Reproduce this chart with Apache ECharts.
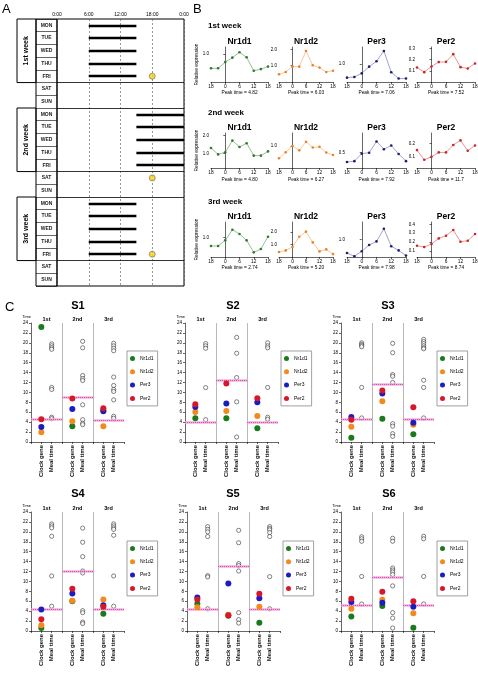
<!DOCTYPE html>
<html><head><meta charset="utf-8">
<script src="https://cdn.jsdelivr.net/npm/echarts@6/dist/echarts.min.js"></script>
<style>html,body{margin:0;padding:0;background:#fff}#c{width:478px;height:674px}</style>
</head><body><div id="c"></div>
<script>
const FONT = 'Liberation Sans, Arial, Helvetica, sans-serif';

// ---------- Panel A data ----------
const weekLabels = ['1st week', '2nd week', '3rd week'];
const dayLabels = ['MON', 'TUE', 'WED', 'THU', 'FRI', 'SAT', 'SUN'];
const mealStartHour = [6, 15, 6];
const mealEndHour = [15, 24, 15];
const mealDayCount = [5, 5, 5];
const sampleDayIndex = [4, 5, 4];
const sampleHour = [18, 18, 18];

// ---------- Panel B data ----------
const timePoints = [-6, -3, 0, 3, 6, 9, 12, 15, 18];
const geneNames = ['Nr1d1', 'Nr1d2', 'Per3', 'Per2'];
const week1Nr1d1 = [0.49, 0.49, 0.71, 0.87, 1.06, 0.88, 0.40, 0.46, 0.55];
const week1Nr1d2 = [0.47, 0.61, 0.94, 0.94, 1.90, 1.02, 0.88, 0.61, 0.69];
const week1Per3  = [0.24, 0.28, 0.48, 0.85, 1.15, 1.72, 0.54, 0.19, 0.19];
const week1Per2  = [0.130, 0.088, 0.139, 0.178, 0.180, 0.249, 0.133, 0.121, 0.166];
const week2Nr1d1 = [1.30, 0.94, 1.06, 1.72, 1.36, 1.57, 0.87, 0.87, 1.11];
const week2Nr1d2 = [0.61, 0.80, 1.00, 0.86, 1.13, 0.95, 0.97, 0.79, 0.71];
const week2Per3  = [0.19, 0.22, 0.46, 0.49, 0.85, 0.60, 0.72, 0.45, 0.22];
const week2Per2  = [0.151, 0.080, 0.102, 0.134, 0.134, 0.188, 0.222, 0.146, 0.185];
const week3Nr1d1 = [0.57, 0.57, 0.86, 1.41, 1.19, 0.86, 0.24, 0.41, 1.05];
const week3Nr1d2 = [0.42, 0.55, 0.82, 1.63, 2.03, 1.18, 0.47, 0.63, 0.26];
const week3Per3  = [0.23, 0.04, 0.33, 0.69, 0.90, 1.63, 0.62, 0.38, 0.08];
const week3Per2  = [0.160, 0.145, 0.179, 0.242, 0.272, 0.336, 0.205, 0.216, 0.291];
const peakWeek1 = ['4.82', '6.03', '7.06', '7.52'];
const peakWeek2 = ['4.80', '6.27', '7.92', '11.7'];
const peakWeek3 = ['2.74', '5.20', '7.98', '8.74'];
const ticksWeek1 = [[1.0], [1.0, 2.0], [1.0], [0.1, 0.2, 0.3]];
const ticksWeek2 = [[1.0, 2.0], [1.0], [0.5], [0.1, 0.2]];
const ticksWeek3 = [[1.0], [1.0, 2.0], [1.0], [0.1, 0.2, 0.3, 0.4]];

// ---------- Panel C data (order: Nr1d1, Nr1d2, Per3, Per2 per week) ----------
const subjects = ['S1', 'S2', 'S3', 'S4', 'S5', 'S6'];
const columnLabels = ['1st', '2nd', '3rd'];
const s1Clock = [[23.2, 1.95, 3.03, 4.58], [3.16, 4.17, 6.66, 8.75], [6.4, 3.16, 6.2, 6.8]];
const s1Meal = [[19.8, 19.4, 19.0, 18.7, 11.0, 10.6, 5.0, 4.7], [20.3, 19.0, 13.4, 12.8, 12.4, 7.5, 4.5, 3.8, 3.5], [19.9, 19.4, 18.9, 18.4, 13.1, 11.4, 10.6, 10.2, 8.5, 5.2, 4.8]];
const s1Mean = [4.5, 8.95, 4.4];
const s2Clock = [[4.78, 6.06, 7.07, 7.6], [4.78, 6.26, 7.74, 11.8], [2.76, 5.25, 8.0, 8.8]];
const s2Meal = [[19.85, 19.4, 18.9, 10.97, 4.5], [21.1, 17.9, 13.0, 8.1, 1.0], [20.0, 19.4, 19.0, 11.0, 5.0, 4.6]];
const s2Mean = [4.0, 12.45, 4.04];
const s3Clock = [[0.87, 3.1, 5.05, 4.5], [4.7, 8.2, 9.76, 10.4], [1.55, 3.5, 3.9, 7.0]];
const s3Meal = [[20.0, 19.7, 19.45, 19.2, 11.0, 4.85], [19.9, 18.0, 13.6, 13.25, 12.0, 3.7, 3.2, 1.68, 1.14], [20.7, 20.25, 19.85, 19.4, 19.0, 18.8, 12.45, 11.0, 4.85]];
const s3Mean = [4.5, 11.6, 4.5];
const s4Clock = [[0.6, 1.15, 4.33, 2.37], [6.0, 6.09, 7.57, 8.5], [3.5, 6.36, 5.2, 4.87]];
const s4Meal = [[21.6, 21.2, 20.8, 19.1, 11.1, 5.0], [20.75, 17.9, 15.0, 12.1, 11.7, 4.1, 3.7, 1.8, 1.5], [21.6, 21.2, 20.8, 20.5, 19.3, 11.1, 5.0]];
const s4Mean = [4.46, 12.0, 4.46];
const s5Clock = [[5.48, 4.8, 6.75, 6.35], [3.1, 3.3, 9.56, 3.2], [1.67, 4.9, 6.6, 7.5]];
const s5Meal = [[21.05, 20.5, 20.0, 19.05, 11.16, 10.9, 4.48], [20.3, 17.8, 13.6, 13.2, 12.1, 3.7, 2.3, 1.6], [21.05, 20.7, 20.4, 19.85, 19.05, 10.96, 4.48]];
const s5Mean = [4.4, 13.03, 4.4];
const s6Clock = [[2.9, 4.5, 5.85, 6.5], [5.04, 6.3, 5.7, 7.93], [0.67, 3.6, 4.9, 6.0]];
const s6Meal = [[19.0, 18.6, 18.1, 11.0, 5.45], [18.7, 18.1, 12.7, 12.3, 11.9, 11.4, 9.1, 3.7, 2.6, 0.6], [19.1, 18.6, 11.0, 5.45]];
const s6Mean = [5.1, 10.76, 5.1];

// ---------- layout / styles ----------
const bLineColors = ['#6aa56a', '#f2b07a', '#7a7ab8', '#dc6a6a'];
const bPointColors = ['#2e7a2e', '#e8842a', '#1e1e70', '#c42a2a'];
const cColors = ['#1b7a1b', '#f28a1e', '#1c1cc0', '#d8182a'];
const bColLeft = [211, 279, 347, 417];
const bColWidth = [57, 54, 59, 58];
const bRowTop = [47, 133, 222];
const bRowHeight = 35;
const bPeakGap = [6.5, 9, 6];
const bYRange = [
  [[0, 1.25], [0, 2.14], [0, 1.94], [0, 0.313]],
  [[0.17, 2.15], [0.3, 1.41], [0, 1.12], [0.02, 0.276]],
  [[0, 1.81], [0.03, 2.79], [0, 2.02], [0.033, 0.426]]
];
const cLayout = [
  {left: 31, top: 323, lx: 127, ly: 351, tx: 78, ty: 306},
  {left: 185, top: 323, lx: 281, ly: 351, tx: 233, ty: 306},
  {left: 341, top: 323, lx: 437, ly: 351, tx: 388, ty: 306},
  {left: 31, top: 512, lx: 127, ly: 541, tx: 78, ty: 494},
  {left: 187, top: 512, lx: 283, ly: 541, tx: 233, ty: 494},
  {left: 341, top: 512, lx: 437, ly: 541, tx: 389, ty: 494}
];

const option = {animation: false, textStyle: {fontFamily: FONT}, grid: [], xAxis: [], yAxis: [], series: [], legend: [], graphic: []};
function addGrid(g) { option.grid.push(Object.assign({outerBoundsMode: 'none', containLabel: false}, g)); return option.grid.length - 1; }
function addX(a) { option.xAxis.push(a); return option.xAxis.length - 1; }
function addY(a) { option.yAxis.push(a); return option.yAxis.length - 1; }
function txt(text, x, y, size, weight, align, extra) {
  option.graphic.push(Object.assign({type: 'text', x: x, y: y, silent: true,
    style: {text: text, fontSize: size, fontWeight: weight || 'normal', fontFamily: FONT, fill: '#000', align: align || 'left', verticalAlign: 'middle'}}, extra || {}));
}
const hidden = {show: false};

// ================= Panel A =================
txt('A', 2, 9, 13, 'normal');
const aTop = 19, aHeight = 267, nRows = 21;
const rowH = aHeight / nRows;
const dayCats = [];
weekLabels.forEach(() => dayLabels.forEach(d => dayCats.push(d)));

const aMain = addGrid({left: 57, top: aTop, width: 127, height: aHeight, show: true, borderColor: '#000', borderWidth: 1});
const aX = addX({gridIndex: aMain, type: 'value', position: 'top', min: 0, max: 24, interval: 6,
  axisLine: hidden, axisTick: hidden,
  axisLabel: {fontSize: 5, margin: 2, color: '#000', formatter: v => (v % 24) + ':00'},
  splitLine: {show: true, lineStyle: {type: [2, 2], color: '#555', width: 0.6}}});
const aY = addY({gridIndex: aMain, type: 'value', min: 0, max: nRows, inverse: true, show: false});
addY({gridIndex: aMain, type: 'category', inverse: true, data: dayCats, position: 'left',
  axisLine: hidden, axisTick: hidden, splitLine: hidden,
  axisLabel: {interval: 0, margin: 10.5, align: 'center', fontSize: 5, fontWeight: 'bold', color: '#222'}});

const aDay = addGrid({left: 36, top: aTop, width: 21, height: aHeight, show: true, borderColor: '#000', borderWidth: 1});
addX({gridIndex: aDay, type: 'value', min: 0, max: 1, show: false});
addY({gridIndex: aDay, type: 'category', inverse: true, data: dayCats,
  axisLine: hidden, axisTick: {show: false, interval: 0}, axisLabel: hidden,
  splitLine: {show: true, interval: 0, lineStyle: {color: '#000', width: 0.6}}});

weekLabels.forEach((wl, w) => {
  const g = addGrid({left: 17, top: aTop + w * 7 * rowH, width: 19, height: mealDayCount[w] * rowH, show: true, borderColor: '#000', borderWidth: 1});
  addX({gridIndex: g, type: 'value', min: 0, max: 1, show: false});
  addY({gridIndex: g, type: 'value', min: 0, max: 1, axisLine: hidden, axisTick: hidden, axisLabel: hidden, splitLine: hidden,
    name: wl, nameLocation: 'middle', nameGap: -13, nameTextStyle: {fontSize: 7, fontWeight: 'bold', color: '#000'}});
});

const barData = [];
weekLabels.forEach((wl, w) => {
  for (let d = 0; d < mealDayCount[w]; d++) {
    barData.push({coords: [[mealStartHour[w], w * 7 + d + 0.5], [mealEndHour[w], w * 7 + d + 0.5]]});
  }
});
option.series.push({type: 'lines', coordinateSystem: 'cartesian2d', xAxisIndex: aX, yAxisIndex: aY, silent: true,
  lineStyle: {color: '#000', width: 2.4, opacity: 1}, data: barData});
const boundaries = [];
weekLabels.forEach((wl, w) => { boundaries.push(w * 7 + mealDayCount[w]); if (w < 2) boundaries.push(w * 7 + 7); });
option.series.push({type: 'scatter', xAxisIndex: aX, yAxisIndex: aY, symbolSize: 6, silent: true,
  itemStyle: {color: '#f7d117', borderColor: '#444', borderWidth: 0.6},
  data: weekLabels.map((wl, w) => [sampleHour[w], w * 7 + sampleDayIndex[w] + 0.5]),
  markLine: {silent: true, symbol: ['none', 'none'], label: hidden, lineStyle: {color: '#000', width: 0.8, type: 'solid'},
    data: boundaries.map(b => ({yAxis: b}))}, z: 5});

// ================= Panel B =================
txt('B', 193, 9, 13, 'normal');
const bWeeks = [
  {label: '1st week', data: [week1Nr1d1, week1Nr1d2, week1Per3, week1Per2], peak: peakWeek1, ticks: ticksWeek1, ly: 26},
  {label: '2nd week', data: [week2Nr1d1, week2Nr1d2, week2Per3, week2Per2], peak: peakWeek2, ticks: ticksWeek2, ly: 113},
  {label: '3rd week', data: [week3Nr1d1, week3Nr1d2, week3Per3, week3Per2], peak: peakWeek3, ticks: ticksWeek3, ly: 202}
];
bWeeks.forEach((wk, r) => {
  txt(wk.label, 208, wk.ly, 8, 'bold');
  geneNames.forEach((gName, k) => {
    const g = addGrid({left: bColLeft[k], top: bRowTop[r], width: bColWidth[k], height: bRowHeight});
    txt(gName, bColLeft[k] + bColWidth[k] / 2, bRowTop[r] - 5, 8.5, 'bold', 'center');
    const xi = addX({gridIndex: g, type: 'value', min: -6, max: 18, interval: 6,
      axisLine: {lineStyle: {color: '#000', width: 0.6}}, axisTick: {length: 2, lineStyle: {width: 0.6}},
      axisLabel: {fontSize: 4.8, margin: 2, color: '#000', formatter: v => String(v < 0 ? v + 24 : v)},
      splitLine: hidden,
      name: 'Peak time = ' + wk.peak[k], nameLocation: 'middle', nameGap: bPeakGap[r],
      nameTextStyle: {fontSize: 4.8, color: '#000'}});
    const yopt = {gridIndex: g, type: 'value', min: bYRange[r][k][0], max: bYRange[r][k][1],
      axisLine: {show: true, lineStyle: {color: '#000', width: 0.6}},
      axisTick: {show: true, length: 2, customValues: wk.ticks[k], lineStyle: {width: 0.6}},
      axisLabel: {fontSize: 4.5, margin: 2, color: '#000', customValues: wk.ticks[k], formatter: v => v.toFixed(1)},
      splitLine: hidden};
    if (k === 0) Object.assign(yopt, {name: 'Relative expression', nameLocation: 'middle', nameGap: 11.5, nameTextStyle: {fontSize: 4.8, color: '#000'}});
    const yi = addY(yopt);
    option.series.push({type: 'line', name: 'B ' + gName + ' ' + wk.label, xAxisIndex: xi, yAxisIndex: yi,
      symbol: 'circle', symbolSize: 2.6, silent: true,
      lineStyle: {color: bLineColors[k], width: 0.7}, itemStyle: {color: bPointColors[k]},
      data: timePoints.map((t, i) => [t, wk.data[k][i]])});
  });
});

// ================= Panel C =================
txt('C', 5, 307, 13, 'normal');
const clockData = [s1Clock, s2Clock, s3Clock, s4Clock, s5Clock, s6Clock];
const mealData = [s1Meal, s2Meal, s3Meal, s4Meal, s5Meal, s6Meal];
const meanData = [s1Mean, s2Mean, s3Mean, s4Mean, s5Mean, s6Mean];

subjects.forEach((sName, s) => {
  const L = cLayout[s];
  txt(sName, L.tx, L.ty, 11, 'bold', 'center');
  const g = addGrid({left: L.left, top: L.top, width: 93, height: 119});
  const xb = addX({gridIndex: g, type: 'value', min: 0, max: 9, interval: 1,
    axisLine: {lineStyle: {color: '#000', width: 0.6}}, axisTick: {length: 2, lineStyle: {width: 0.6}},
    axisLabel: {rotate: 90, fontSize: 6, fontWeight: 'bold', margin: 3, color: '#111', showMinLabel: true, showMaxLabel: true,
      formatter: v => (v % 3 === 1 ? 'Clock gene' : (v % 3 === 2 ? 'Meal time' : ''))},
    splitLine: hidden});
  addX({gridIndex: g, type: 'value', position: 'top', min: 0, max: 9, interval: 1.5,
    axisLine: hidden, axisTick: hidden, splitLine: hidden,
    axisLabel: {fontSize: 5.5, fontWeight: 'bold', margin: 1, color: '#000', formatter: v => {
      const i = (v - 1.5) / 3; return Number.isInteger(i) && columnLabels[i] ? columnLabels[i] : ''; }}});
  const yi = addY({gridIndex: g, type: 'value', min: 0, max: 24, interval: 2,
    axisLine: {show: true, lineStyle: {color: '#000', width: 0.6}}, axisTick: {show: true, length: 2, lineStyle: {width: 0.6}},
    axisLabel: {fontSize: 4.5, margin: 3, color: '#000'}, splitLine: hidden,
    name: 'Time', nameLocation: 'end', nameGap: 4, nameTextStyle: {fontSize: 4, color: '#000', align: 'right'}});

  const meanPairs = meanData[s].map((m, w) => [{coord: [w * 3, m]}, {coord: [w * 3 + 3, m]}]);
  option.series.push({type: 'scatter', xAxisIndex: xb, yAxisIndex: yi, data: [], silent: true, z: 1,
    markLine: {silent: true, symbol: ['none', 'none'], label: hidden, lineStyle: {color: '#999', width: 0.7, type: 'solid'},
      data: [{xAxis: 3}, {xAxis: 6}]}});
  option.series.push({type: 'scatter', xAxisIndex: xb, yAxisIndex: yi, data: [], silent: true, z: 1,
    markLine: {silent: true, symbol: ['none', 'none'], label: hidden, lineStyle: {color: 'rgba(240,170,220,0.7)', width: 3, type: 'solid'},
      data: meanPairs}});
  option.series.push({type: 'scatter', xAxisIndex: xb, yAxisIndex: yi, data: [], silent: true, z: 2,
    markLine: {silent: true, symbol: ['none', 'none'], label: hidden, lineStyle: {color: '#d850b0', width: 1.1, type: [1.2, 0.8]},
      data: meanPairs}});
  option.series.push({type: 'scatter', name: 'Meal time', xAxisIndex: xb, yAxisIndex: yi, symbolSize: 4.2, silent: true, z: 3,
    itemStyle: {color: '#fff', borderColor: '#000', borderWidth: 0.6},
    data: mealData[s].flatMap((arr, w) => arr.map(t => [w * 3 + 2, t]))});
  geneNames.forEach((gName, k) => {
    option.series.push({type: 'scatter', name: gName, xAxisIndex: xb, yAxisIndex: yi, symbolSize: 6, silent: true, z: 4 + k,
      itemStyle: {color: cColors[k], opacity: 1},
      data: clockData[s].map((wk, w) => [w * 3 + 1, wk[k]])});
  });
  option.legend.push({left: L.lx, top: L.ly, orient: 'vertical', data: geneNames, selectedMode: false,
    icon: 'circle', itemWidth: 5, itemHeight: 5, itemGap: 8.3,
    borderColor: '#888', borderWidth: 0.8, padding: [5, 4, 5, 3],
    textStyle: {fontSize: 5, color: '#000', fontFamily: FONT}});
});

const chart = echarts.init(document.getElementById('c'), null, {renderer: 'canvas'});
chart.setOption(option);
</script>
</body></html>
